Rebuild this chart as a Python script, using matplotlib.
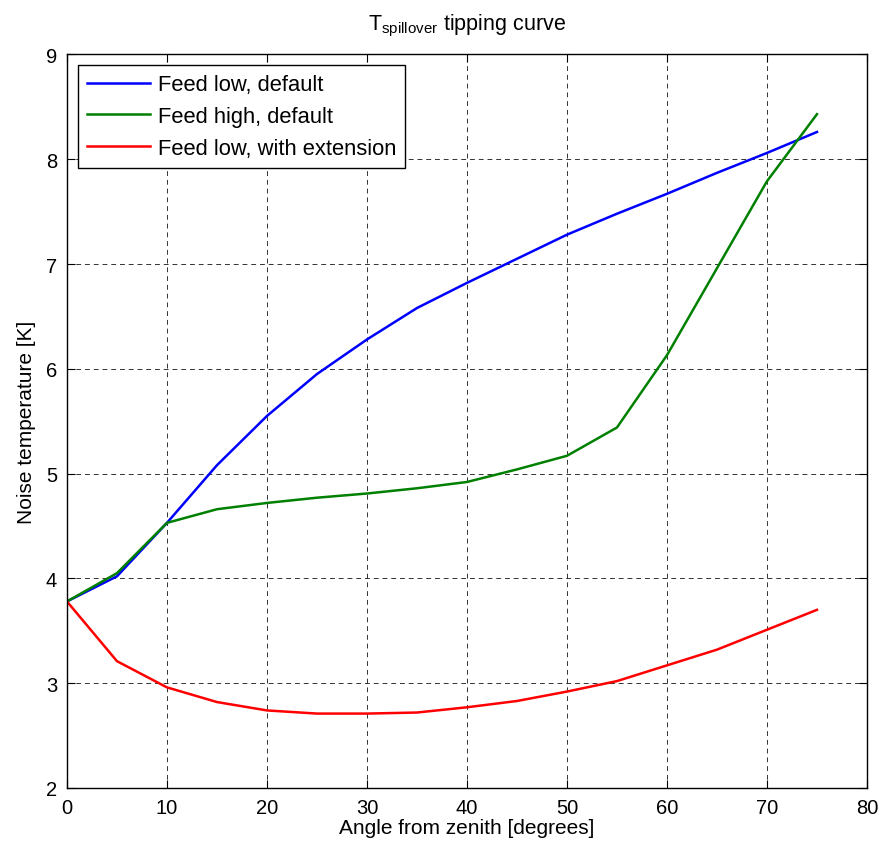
import matplotlib.pyplot as plt
import numpy as np

plt.rcParams['font.family'] = ['Liberation Sans', 'DejaVu Sans']
plt.rcParams['mathtext.fontset'] = 'custom'
plt.rcParams['mathtext.rm'] = 'Liberation Sans'
plt.rcParams['mathtext.it'] = 'Liberation Sans:italic'

# Zenith angle in degrees
angle = [0, 5, 10, 15, 20, 25, 30, 35, 40, 45, 50, 55, 60, 65, 70, 75]

# Spillover noise temperature [K]
feed_low_default = [3.78, 4.02, 4.53, 5.08, 5.55, 5.95, 6.28, 6.58, 6.82, 7.05, 7.28, 7.48, 7.67, 7.87, 8.06, 8.26]
feed_high_default = [3.78, 4.05, 4.53, 4.66, 4.72, 4.77, 4.81, 4.86, 4.92, 5.04, 5.17, 5.44, 6.13, 6.96, 7.79, 8.43]
feed_low_extension = [3.78, 3.21, 2.96, 2.82, 2.74, 2.71, 2.71, 2.72, 2.77, 2.83, 2.92, 3.02, 3.17, 3.32, 3.51, 3.70]

labels = ['Feed low, default', 'Feed high, default', 'Feed low, with extension']
colors = ['#0000ff', '#008000', '#ff0000']

fig = plt.figure(figsize=(8.8, 8.45), dpi=100)
ax = fig.add_axes([0.0761, 0.0663, 0.9091, 0.8681])

for y, lab, c in zip([feed_low_default, feed_high_default, feed_low_extension], labels, colors):
    ax.plot(angle, y, color=c, linewidth=1.8, label=lab)

ax.set_xlim(0, 80)
ax.set_ylim(2, 9)
ax.set_xticks(np.arange(0, 81, 10))
ax.set_yticks(np.arange(2, 10, 1))
ax.tick_params(direction='in', top=True, right=True, length=6, labelsize=14.5, pad=7)

# dashed grid like matlab's "grid on"
ax.grid(True, color='black', linestyle=(0, (5, 4)), linewidth=0.7, alpha=0.8)
for s in ax.spines.values():
    s.set_linewidth(1.0)

ax.set_xlabel('Angle from zenith [degrees]', fontsize=15, labelpad=1)
ax.set_ylabel('Noise temperature [K]', fontsize=15, labelpad=7)
ax.set_title(r'T$_{\mathrm{spillover}}$ tipping curve', fontsize=15.5, pad=18)

leg = ax.legend(loc='upper left', fontsize=15.8, frameon=True, fancybox=False,
                edgecolor='black', framealpha=1, handlelength=2.9,
                handletextpad=0.35, borderaxespad=0.5, labelspacing=0.5,
                borderpad=0.4)
leg.get_frame().set_linewidth(1.0)

plt.savefig('out.png', dpi=100)
